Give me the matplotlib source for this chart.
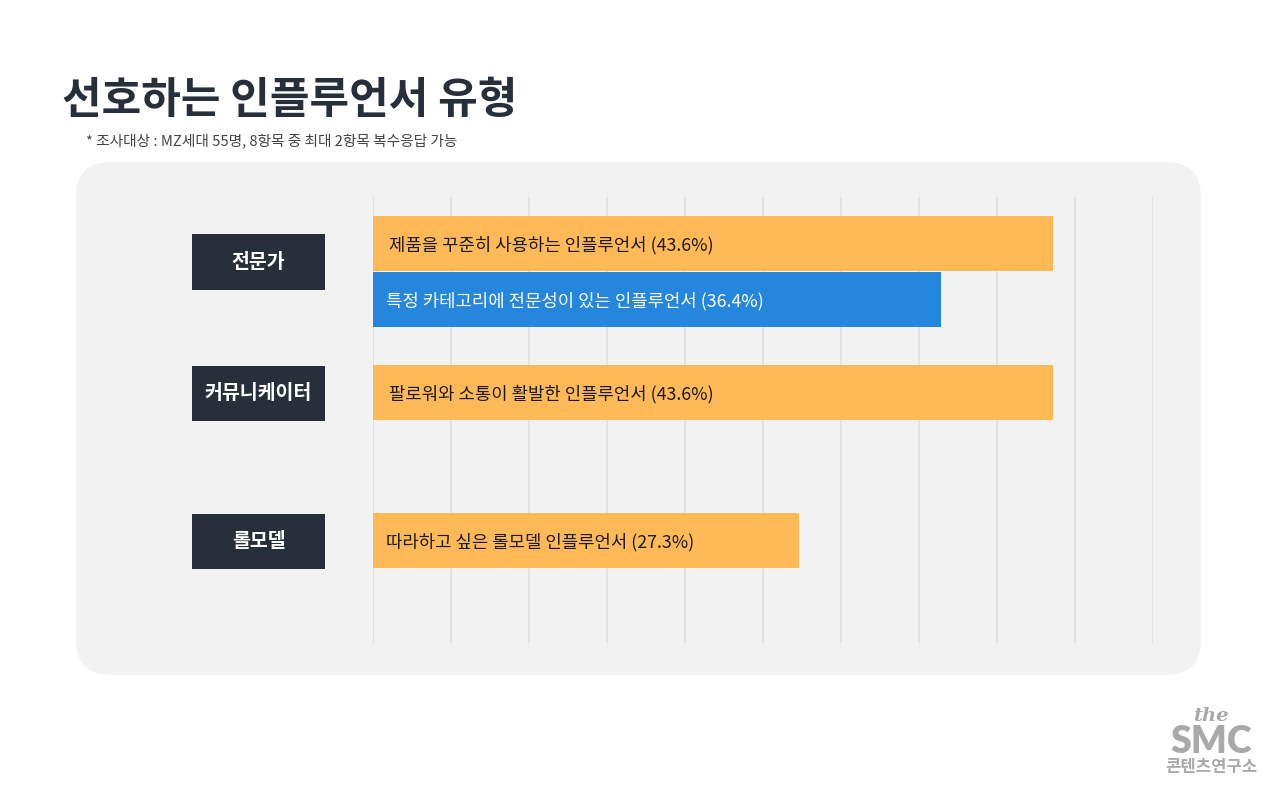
import matplotlib.pyplot as plt
from matplotlib.patches import FancyBboxPatch, Rectangle
from matplotlib.transforms import blended_transform_factory

plt.rcParams['font.family'] = ['Noto Sans CJK KR', 'DejaVu Sans']

# data
groups = ["전문가", "커뮤니케이터", "롤모델"]
bar_labels = [
    "제품을 꾸준히 사용하는 인플루언서",
    "특정 카테고리에 전문성이 있는 인플루언서",
    "팔로워와 소통이 활발한 인플루언서",
    "따라하고 싶은 롤모델 인플루언서",
]
bar_values = [43.6, 36.4, 43.6, 27.3]
bar_group = [0, 0, 1, 2]
bar_colors = ["#FFB957", "#2586DD", "#FFB957", "#FFB957"]
text_colors = ["#1a1a1a", "white", "#1a1a1a", "#1a1a1a"]

# layout (slot positions along the y axis, 1 unit = bar height)
bar_pos = [0.834, 1.839, 3.507, 6.161]
group_pos = [1.166, 3.525, 6.179]
text_pad = [11.5, 9.5, 11.5, 9.5]

W, H = 1280, 793
fig = plt.figure(figsize=(W / 100, H / 100), dpi=100)
fig.patch.set_facecolor("white")

# background layer in pixel coordinates
bg = fig.add_axes([0, 0, 1, 1])
bg.set_xlim(0, W)
bg.set_ylim(H, 0)
bg.axis("off")
bg.add_patch(FancyBboxPatch((76 + 35, 162 + 35), 1125 - 70, 513 - 70,
                            boxstyle="round,pad=35", fc="#F2F2F2", ec="none"))
bg.text(62, 100, "선호하는 인플루언서 유형", fontsize=31, fontweight="bold",
        color="#262F3A", va="center", ha="left")
bg.text(86, 141, "* 조사대상 : MZ세대 55명, 8항목 중 최대 2항목 복수응답 가능",
        fontsize=10.6, color="#444444", va="center", ha="left")

# logo
logo_c = "#A9A9A9"
bg.text(1211, 716, "the", fontsize=14, fontstyle="italic", fontweight="bold",
        family="DejaVu Serif", color=logo_c, ha="center", va="center")
bg.text(1211, 742, "SMC", fontsize=27, fontweight="heavy", color=logo_c,
        ha="center", va="center", family="Lato")
bg.text(1211, 767, "콘텐츠연구소", fontsize=12, fontweight="bold", color=logo_c,
        ha="center", va="center")

# bar axes
ax = fig.add_axes([373 / W, 1 - 643 / H, 780 / W, 446 / H])
ax.set_facecolor("none")
ax.set_xlim(0, 50)
ax.set_ylim(8, 0)
for s in ax.spines.values():
    s.set_visible(False)
ax.set_xticks(range(0, 51, 5))
ax.set_yticks([])
ax.tick_params(axis="x", length=0, labelbottom=False)
ax.grid(axis="x", color="#E0E0E0", linewidth=1.3)
ax.set_axisbelow(True)

ax.barh(bar_pos, bar_values, height=1.0, color=bar_colors, zorder=2)
for y, v, lab, tc, pad in zip(bar_pos, bar_values, bar_labels, text_colors, text_pad):
    ax.annotate(f"{lab} ({v}%)", xy=(0, y), xytext=(pad, -1.5),
                textcoords="offset points", ha="left", va="center",
                fontsize=12.8, color=tc, zorder=3)

# group label boxes
tr = blended_transform_factory(fig.transFigure, ax.transData)
for g, y in zip(groups, group_pos):
    ax.add_patch(Rectangle((192 / W, y - 0.5), 133 / W, 1.0, transform=tr,
                           fc="#262F3A", ec="none", clip_on=False))
    ax.text((192 + 66.5) / W, y, g, transform=tr, ha="center", va="center",
            fontsize=14, fontweight="bold", color="white")

fig.savefig("out.png", dpi=100)
